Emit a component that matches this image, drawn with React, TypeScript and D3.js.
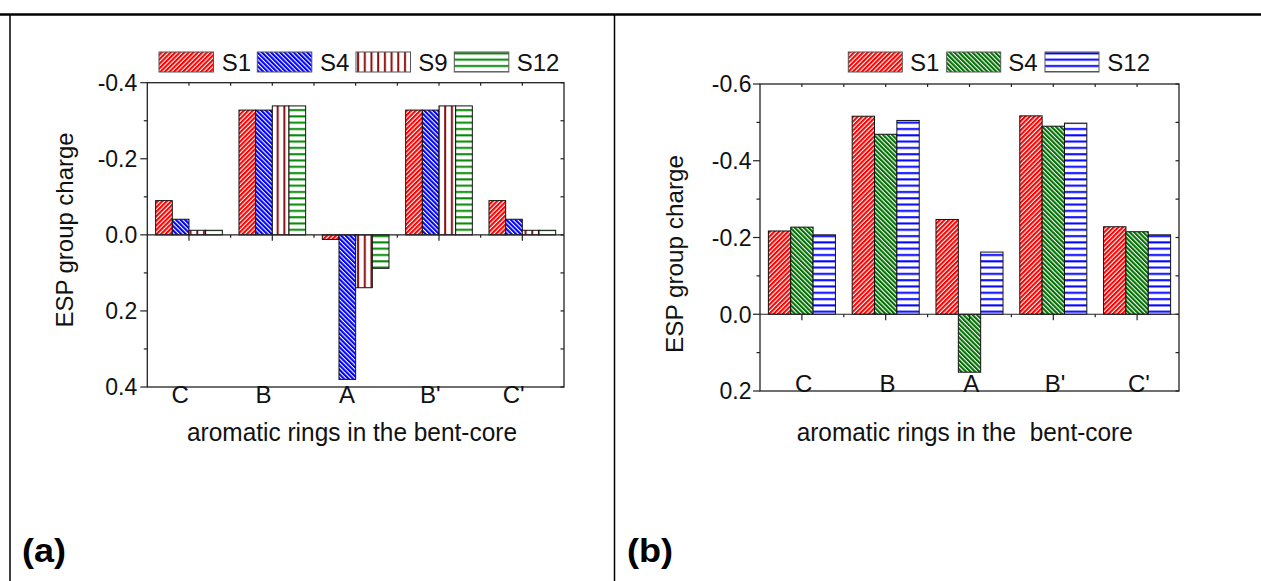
import React from "react";
import * as d3 from "d3";

// ---------- data ----------
const categories = ["C", "B", "A", "B'", "C'"];

// panel (a)
const seriesNamesA = ["S1", "S4", "S9", "S12"];
const aS1 = [-0.09, -0.328, 0.012, -0.328, -0.09];
const aS4 = [-0.041, -0.328, 0.38, -0.328, -0.041];
const aS9 = [-0.012, -0.339, 0.139, -0.339, -0.012];
const aS12 = [-0.012, -0.339, 0.088, -0.339, -0.012];
const yTicksA = [-0.4, -0.2, 0, 0.2, 0.4];
const yTickLabelsA = ["-0.4", "-0.2", "0.0", "0.2", "0.4"];

// panel (b)
const seriesNamesB = ["S1", "S4", "S12"];
const bS1 = [-0.217, -0.516, -0.247, -0.517, -0.228];
const bS4 = [-0.227, -0.469, 0.151, -0.49, -0.215];
const bS12 = [-0.207, -0.505, -0.162, -0.498, -0.207];
const yTicksB = [-0.6, -0.4, -0.2, 0, 0.2];
const yTickLabelsB = ["-0.6", "-0.4", "-0.2", "0.0", "0.2"];

const yTitle = "ESP group charge";
const xTitleA = "aromatic rings in the bent-core";
const xTitleB = "aromatic rings in the  bent-core";

const FONT = "Arial, 'Liberation Sans', Helvetica, sans-serif";

type Series = { name: string; values: number[]; fill: string };

type PanelProps = {
  left: number;
  right: number;
  top: number;
  bottom: number;
  yDomain: [number, number];
  yTicks: number[];
  yTickLabels: string[];
  series: Series[];
  catBaseline: number;
  catOffset: number;
  yTitleX: number;
  yTitleY: number;
  yTitleLen: number;
  xTitle: string;
  xTitleX: number;
  xTitleY: number;
  xTitleLen: number;
  legendX: number[];
  legendTextX: number[];
  legendW: number;
  legendY: number;
  labelGap: number;
};

function Panel(p: PanelProps) {
  const x = d3
    .scaleBand<string>()
    .domain(categories)
    .range([p.left, p.right])
    .paddingInner(0.2)
    .paddingOuter(0.1);
  const step = x.step();
  const inner = d3
    .scaleBand<string>()
    .domain(p.series.map((s) => s.name))
    .range([0, x.bandwidth()])
    .padding(0);
  const y = d3.scaleLinear().domain(p.yDomain).range([p.top, p.bottom]);
  const y0 = y(0);
  const centers = categories.map((c) => (x(c) as number) + x.bandwidth() / 2);
  const bounds = d3.range(1, categories.length).map((i) => p.left + i * step);
  const minorY = d3.range(p.yTicks.length - 1).map((i) => (p.yTicks[i] + p.yTicks[i + 1]) / 2);
  const rightTicks = [...p.yTicks, ...minorY];
  const axisColor = "#222";

  return (
    <g>
      {/* bars */}
      {p.series.map((s) =>
        s.values.map((v, i) => {
          const bx = (x(categories[i]) as number) + (inner(s.name) as number);
          const yv = y(v);
          return (
            <rect
              key={s.name + i}
              x={bx}
              y={Math.min(yv, y0)}
              width={inner.bandwidth()}
              height={Math.abs(yv - y0)}
              fill={s.fill}
              stroke="#111"
              strokeWidth={1}
            />
          );
        })
      )}
      {/* zero line with ticks */}
      <line x1={p.left} x2={p.right} y1={y0} y2={y0} stroke={axisColor} strokeWidth={1.2} />
      {centers.map((c, i) => (
        <line key={"zc" + i} x1={c} x2={c} y1={y0} y2={y0 + 6} stroke={axisColor} strokeWidth={1.2} />
      ))}
      {bounds.map((c, i) => (
        <line key={"zb" + i} x1={c} x2={c} y1={y0} y2={y0 + 3} stroke={axisColor} strokeWidth={1.2} />
      ))}
      {/* frame */}
      <rect
        x={p.left}
        y={p.top}
        width={p.right - p.left}
        height={p.bottom - p.top}
        fill="none"
        stroke={axisColor}
        strokeWidth={1.3}
      />
      {/* top ticks */}
      {centers.map((c, i) => (
        <line key={"tc" + i} x1={c} x2={c} y1={p.top} y2={p.top + 3} stroke={axisColor} strokeWidth={1.2} />
      ))}
      {bounds.map((c, i) => (
        <line key={"tb" + i} x1={c} x2={c} y1={p.top} y2={p.top + 3} stroke={axisColor} strokeWidth={1.2} />
      ))}
      {/* left ticks */}
      {p.yTicks.map((t, i) => (
        <line key={"lm" + i} x1={p.left - 7} x2={p.left} y1={y(t)} y2={y(t)} stroke={axisColor} strokeWidth={1.2} />
      ))}
      {minorY.map((t, i) => (
        <line key={"ln" + i} x1={p.left - 3.5} x2={p.left} y1={y(t)} y2={y(t)} stroke={axisColor} strokeWidth={1.2} />
      ))}
      {/* right ticks */}
      {rightTicks.map((t, i) => (
        <line key={"r" + i} x1={p.right - 3.5} x2={p.right} y1={y(t)} y2={y(t)} stroke={axisColor} strokeWidth={1.2} />
      ))}
      {/* y tick labels */}
      {p.yTicks.map((t, i) => (
        <text
          key={"yl" + i}
          x={p.left - p.labelGap}
          y={y(t)}
          dy="0.36em"
          textAnchor="end"
          fontSize={23}
          fontFamily={FONT}
          fill="#111"
        >
          {p.yTickLabels[i]}
        </text>
      ))}
      {/* category labels */}
      {categories.map((c, i) => (
        <text
          key={"cl" + i}
          x={centers[i] + p.catOffset}
          y={p.catBaseline}
          textAnchor="middle"
          fontSize={24}
          fontFamily={FONT}
          fill="#111"
        >
          {c}
        </text>
      ))}
      {/* y title */}
      <text
        transform={`translate(${p.yTitleX},${p.yTitleY}) rotate(-90)`}
        textAnchor="middle"
        fontSize={24}
        fontFamily={FONT}
        fill="#111"
        textLength={p.yTitleLen}
        lengthAdjust="spacingAndGlyphs"
      >
        {yTitle}
      </text>
      {/* x title */}
      <text
        x={p.xTitleX}
        y={p.xTitleY}
        textAnchor="middle"
        fontSize={26}
        fontFamily={FONT}
        fill="#111"
        textLength={p.xTitleLen}
        lengthAdjust="spacingAndGlyphs"
        style={{ whiteSpace: "pre" }}
      >
        {p.xTitle}
      </text>
      {/* legend */}
      {p.series.map((s, i) => (
        <g key={"lg" + i}>
          <rect
            x={p.legendX[i]}
            y={p.legendY}
            width={p.legendW}
            height={20}
            fill={s.fill}
            stroke="#555"
            strokeWidth={1}
          />
          <text
            x={p.legendTextX[i]}
            y={p.legendY + 19}
            fontSize={24}
            fontFamily={FONT}
            fill="#111"
          >
            {s.name}
          </text>
        </g>
      ))}
    </g>
  );
}

export default function App() {
  const seriesA: Series[] = [
    { name: seriesNamesA[0], values: aS1, fill: "url(#pRedDiag)" },
    { name: seriesNamesA[1], values: aS4, fill: "url(#pBlueDiag)" },
    { name: seriesNamesA[2], values: aS9, fill: "url(#pMaroonVert)" },
    { name: seriesNamesA[3], values: aS12, fill: "url(#pGreenHoriz)" },
  ];
  const seriesB: Series[] = [
    { name: seriesNamesB[0], values: bS1, fill: "url(#pRedDiag)" },
    { name: seriesNamesB[1], values: bS4, fill: "url(#pGreenDiag)" },
    { name: seriesNamesB[2], values: bS12, fill: "url(#pBlueHoriz)" },
  ];

  return (
    <svg
      width={1261}
      height={581}
      style={{ position: "absolute", left: 0, top: 0, background: "#fff" }}
    >
      <defs>
        <pattern id="pRedDiag" patternUnits="userSpaceOnUse" width={3.2} height={3.2} patternTransform="rotate(45)">
          <rect width={3.2} height={3.2} fill="#fff" />
          <rect width={2.1} height={3.2} fill="#ff0000" />
        </pattern>
        <pattern id="pBlueDiag" patternUnits="userSpaceOnUse" width={3.2} height={3.2} patternTransform="rotate(-45)">
          <rect width={3.2} height={3.2} fill="#fff" />
          <rect width={2.1} height={3.2} fill="#0000ff" />
        </pattern>
        <pattern id="pGreenDiag" patternUnits="userSpaceOnUse" width={3.2} height={3.2} patternTransform="rotate(-45)">
          <rect width={3.2} height={3.2} fill="#fff" />
          <rect width={2.1} height={3.2} fill="#007000" />
        </pattern>
        <pattern id="pMaroonVert" patternUnits="userSpaceOnUse" width={6.7} height={10}>
          <rect width={6.7} height={10} fill="#fff" />
          <rect x={2} width={2} height={10} fill="#8b1010" />
        </pattern>
        <pattern id="pGreenHoriz" patternUnits="userSpaceOnUse" width={10} height={6.3}>
          <rect width={10} height={6.3} fill="#fff" />
          <rect y={2} width={10} height={2} fill="#008800" />
        </pattern>
        <pattern id="pBlueHoriz" patternUnits="userSpaceOnUse" width={10} height={6.3}>
          <rect width={10} height={6.3} fill="#fff" />
          <rect y={2} width={10} height={2} fill="#0000ff" />
        </pattern>
      </defs>

      {/* table frame */}
      <line x1={0} x2={1261} y1={14.5} y2={14.5} stroke="#000" strokeWidth={2.5} />
      <line x1={10} x2={10} y1={14} y2={581} stroke="#000" strokeWidth={1.5} />
      <line x1={614.5} x2={614.5} y1={14} y2={581} stroke="#000" strokeWidth={1.5} />

      <Panel
        left={147.3}
        right={564}
        top={82.7}
        bottom={387}
        yDomain={[-0.4, 0.4]}
        yTicks={yTicksA}
        yTickLabels={yTickLabelsA}
        series={seriesA}
        catBaseline={403}
        catOffset={-8.7}
        yTitleX={73.3}
        yTitleY={230}
        yTitleLen={195}
        xTitle={xTitleA}
        xTitleX={352}
        xTitleY={441}
        xTitleLen={330}
        legendX={[159, 257.3, 356, 454.3]}
        legendTextX={[221.7, 320, 418.3, 516.7]}
        legendW={54.5}
        legendY={52}
        labelGap={10}
      />
      <Panel
        left={760}
        right={1179}
        top={84}
        bottom={391}
        yDomain={[-0.6, 0.2]}
        yTicks={yTicksB}
        yTickLabels={yTickLabelsB}
        series={seriesB}
        catBaseline={392}
        catOffset={1.8}
        yTitleX={683.3}
        yTitleY={254}
        yTitleLen={198}
        xTitle={xTitleB}
        xTitleX={964.7}
        xTitleY={441}
        xTitleLen={336}
        legendX={[848.3, 946.7, 1045]}
        legendTextX={[910, 1008.3, 1107.3]}
        legendW={54}
        legendY={52}
        labelGap={8.5}
      />

      <text x={22} y={562} fontSize={34} fontWeight="bold" fontFamily={FONT} textLength={44} lengthAdjust="spacingAndGlyphs" fill="#000">
        (a)
      </text>
      <text x={627} y={562} fontSize={34} fontWeight="bold" fontFamily={FONT} textLength={46} lengthAdjust="spacingAndGlyphs" fill="#000">
        (b)
      </text>
    </svg>
  );
}
